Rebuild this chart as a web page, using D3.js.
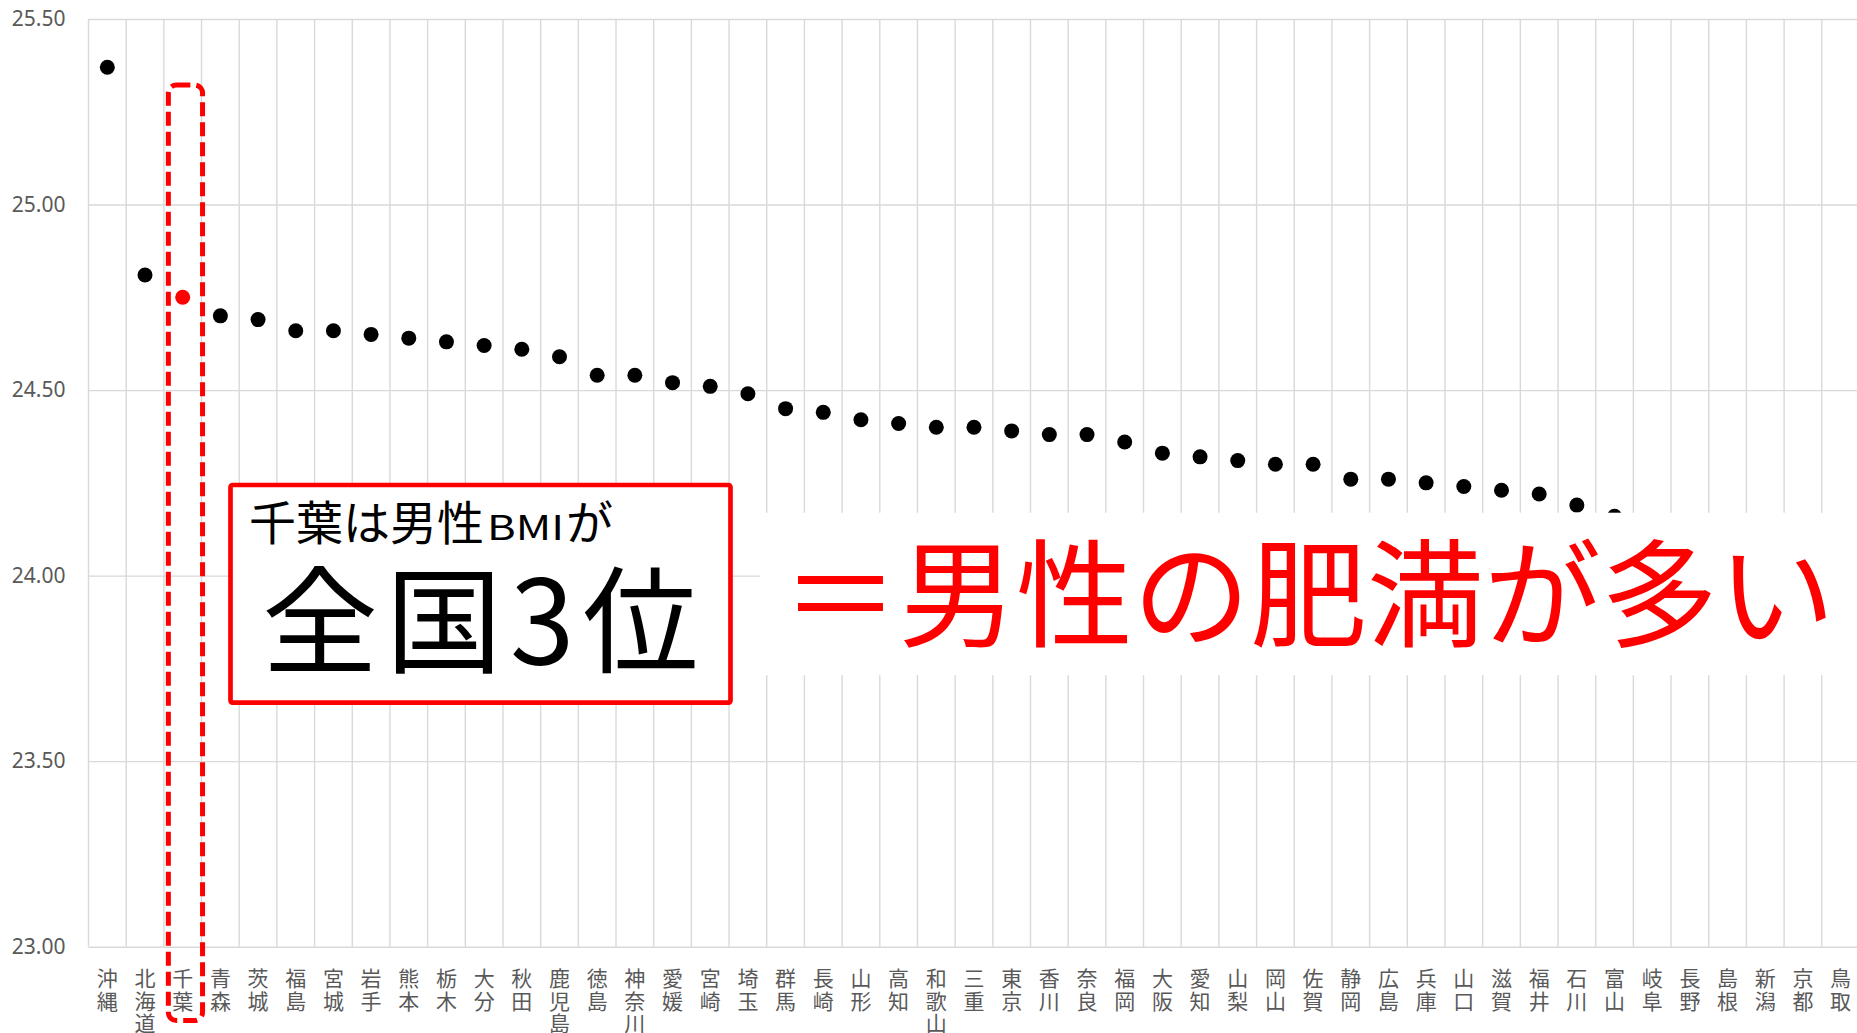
<!DOCTYPE html>
<html>
<head>
<meta charset="utf-8">
<script src="https://cdnjs.cloudflare.com/ajax/libs/d3/7.8.5/d3.min.js"></script>
<style>
body { margin: 0; background: #fff; }
svg { display: block; }
</style>
</head>
<body>
<div id="chart"></div>
<script>
// 都道府県別 男性BMI（降順）
var prefectures = ["沖縄", "北海道", "千葉", "青森", "茨城", "福島", "宮城", "岩手", "熊本", "栃木",
    "大分", "秋田", "鹿児島", "徳島", "神奈川", "愛媛", "宮崎", "埼玉", "群馬", "長崎",
    "山形", "高知", "和歌山", "三重", "東京", "香川", "奈良", "福岡", "大阪", "愛知",
    "山梨", "岡山", "佐賀", "静岡", "広島", "兵庫", "山口", "滋賀", "福井", "石川",
    "富山", "岐阜", "長野", "島根", "新潟", "京都", "鳥取"];
var bmiValues = [25.37, 24.81, 24.75, 24.70, 24.69, 24.66, 24.66, 24.65, 24.64, 24.63,
    24.62, 24.61, 24.59, 24.54, 24.54, 24.52, 24.51, 24.49, 24.45, 24.44,
    24.42, 24.41, 24.40, 24.40, 24.39, 24.38, 24.38, 24.36, 24.33, 24.32,
    24.31, 24.30, 24.30, 24.26, 24.26, 24.25, 24.24, 24.23, 24.22, 24.19,
    24.16, 24.13, 24.11, 24.08, 24.05, 24.02, 23.98];
var yTicks = [23.0, 23.5, 24.0, 24.5, 25.0, 25.5];
var highlight = "千葉";

var boxLine1a = "千葉は男性";
var boxLine1b = "BMI";
var boxLine1c = "が";
var boxLine2 = "全国3位";
var bigText = "＝男性の肥満が多い";

var w = 1857;
var h = 1033;
var left = 88.5;
var colW = 37.68;
var gridColor = "#d9d9d9";
var labelColor = "#595959";
var jp = "'Noto Sans CJK JP', 'Noto Sans', sans-serif";

var data = prefectures.map(function (p, i) {
    return {name: p, value: bmiValues[i]};
});

var svg = d3.select("#chart")
    .append("svg")
    .attr("width", w)
    .attr("height", h);

var x = d3.scaleBand()
    .domain(prefectures)
    .range([left, left + colW * prefectures.length])
    .padding(0);

var y = d3.scaleLinear()
    .domain([23, 25.5])
    .range([946.7, 19]);

// horizontal grid + y labels
var yAxis = svg.append("g")
    .attr("transform", "translate(" + left + ",0)")
    .call(d3.axisLeft(y)
        .tickValues(yTicks)
        .tickFormat(d3.format(".2f"))
        .tickSize(-(w - left))
        .tickPadding(23));
yAxis.select(".domain").remove();
yAxis.selectAll("line")
    .attr("stroke", gridColor)
    .attr("stroke-width", 1.4);
yAxis.selectAll("text")
    .attr("fill", labelColor)
    .attr("font-family", "'Noto Sans', sans-serif")
    .attr("font-size", "21px");

// vertical grid at category boundaries
var bounds = prefectures.map(function (p) { return x(p); });
bounds.push(x.range()[1]);
svg.append("g")
    .selectAll("line")
    .data(bounds)
    .enter()
    .append("line")
    .attr("x1", function (d) { return d; })
    .attr("x2", function (d) { return d; })
    .attr("y1", y(25.5))
    .attr("y2", y(23))
    .attr("stroke", gridColor)
    .attr("stroke-width", 1.4);

// dots
svg.append("g")
    .selectAll("circle")
    .data(data)
    .enter()
    .append("circle")
    .attr("cx", function (d) { return x(d.name) + x.bandwidth() / 2; })
    .attr("cy", function (d) { return y(d.value); })
    .attr("r", 7.5)
    .attr("fill", function (d) { return d.name === highlight ? "#ff0000" : "#000"; });

// x labels, stacked vertically
var xl = svg.append("g")
    .selectAll("g")
    .data(prefectures)
    .enter()
    .append("g")
    .attr("transform", function (d) {
        return "translate(" + (x(d) + x.bandwidth() / 2) + ",977)";
    });
xl.selectAll("text")
    .data(function (d) { return d.split(""); })
    .enter()
    .append("text")
    .attr("y", function (d, i) { return i * 22.5; })
    .attr("text-anchor", "middle")
    .attr("dominant-baseline", "central")
    .attr("font-family", jp)
    .attr("font-size", "21px")
    .attr("fill", labelColor)
    .text(function (d) { return d; });

// dashed frame around 千葉
svg.append("rect")
    .attr("x", x(highlight) + 4.5)
    .attr("y", 85)
    .attr("width", x.bandwidth() - 3.5)
    .attr("height", 935.5)
    .attr("rx", 8)
    .attr("fill", "none")
    .attr("stroke", "#ff0000")
    .attr("stroke-width", 5)
    .attr("stroke-dasharray", "14,6");

// white band behind the big message
svg.append("rect")
    .attr("x", 760)
    .attr("y", 512.7)
    .attr("width", w - 760)
    .attr("height", 162.5)
    .attr("fill", "#fff");

// red box
svg.append("rect")
    .attr("x", 230.5)
    .attr("y", 485)
    .attr("width", 500)
    .attr("height", 217.6)
    .attr("rx", 2)
    .attr("fill", "#fff")
    .attr("stroke", "#ff0000")
    .attr("stroke-width", 4.7);

var t1 = svg.append("text")
    .attr("x", 249)
    .attr("y", 540)
    .attr("font-family", jp)
    .attr("font-size", "47px")
    .attr("fill", "#000")
    .text(boxLine1a);
var x1 = 249 + t1.node().getComputedTextLength();
svg.append("text")
    .attr("x", x1 + 3)
    .attr("y", 540)
    .attr("font-family", jp)
    .attr("font-size", "34px")
    .attr("textLength", 77)
    .attr("lengthAdjust", "spacingAndGlyphs")
    .attr("fill", "#000")
    .text(boxLine1b);
svg.append("text")
    .attr("x", x1 + 82)
    .attr("y", 540)
    .attr("font-family", jp)
    .attr("font-size", "47px")
    .attr("fill", "#000")
    .text(boxLine1c);

svg.append("text")
    .attr("x", 262)
    .attr("y", 664)
    .attr("font-family", jp)
    .attr("font-size", "116px")
    .attr("letter-spacing", "8px")
    .attr("fill", "#000")
    .text(boxLine2);

svg.append("text")
    .attr("x", 782)
    .attr("y", 638)
    .attr("font-family", jp)
    .attr("font-size", "117px")
    .attr("fill", "#ff0000")
    .text(bigText);
</script>
</body>
</html>
